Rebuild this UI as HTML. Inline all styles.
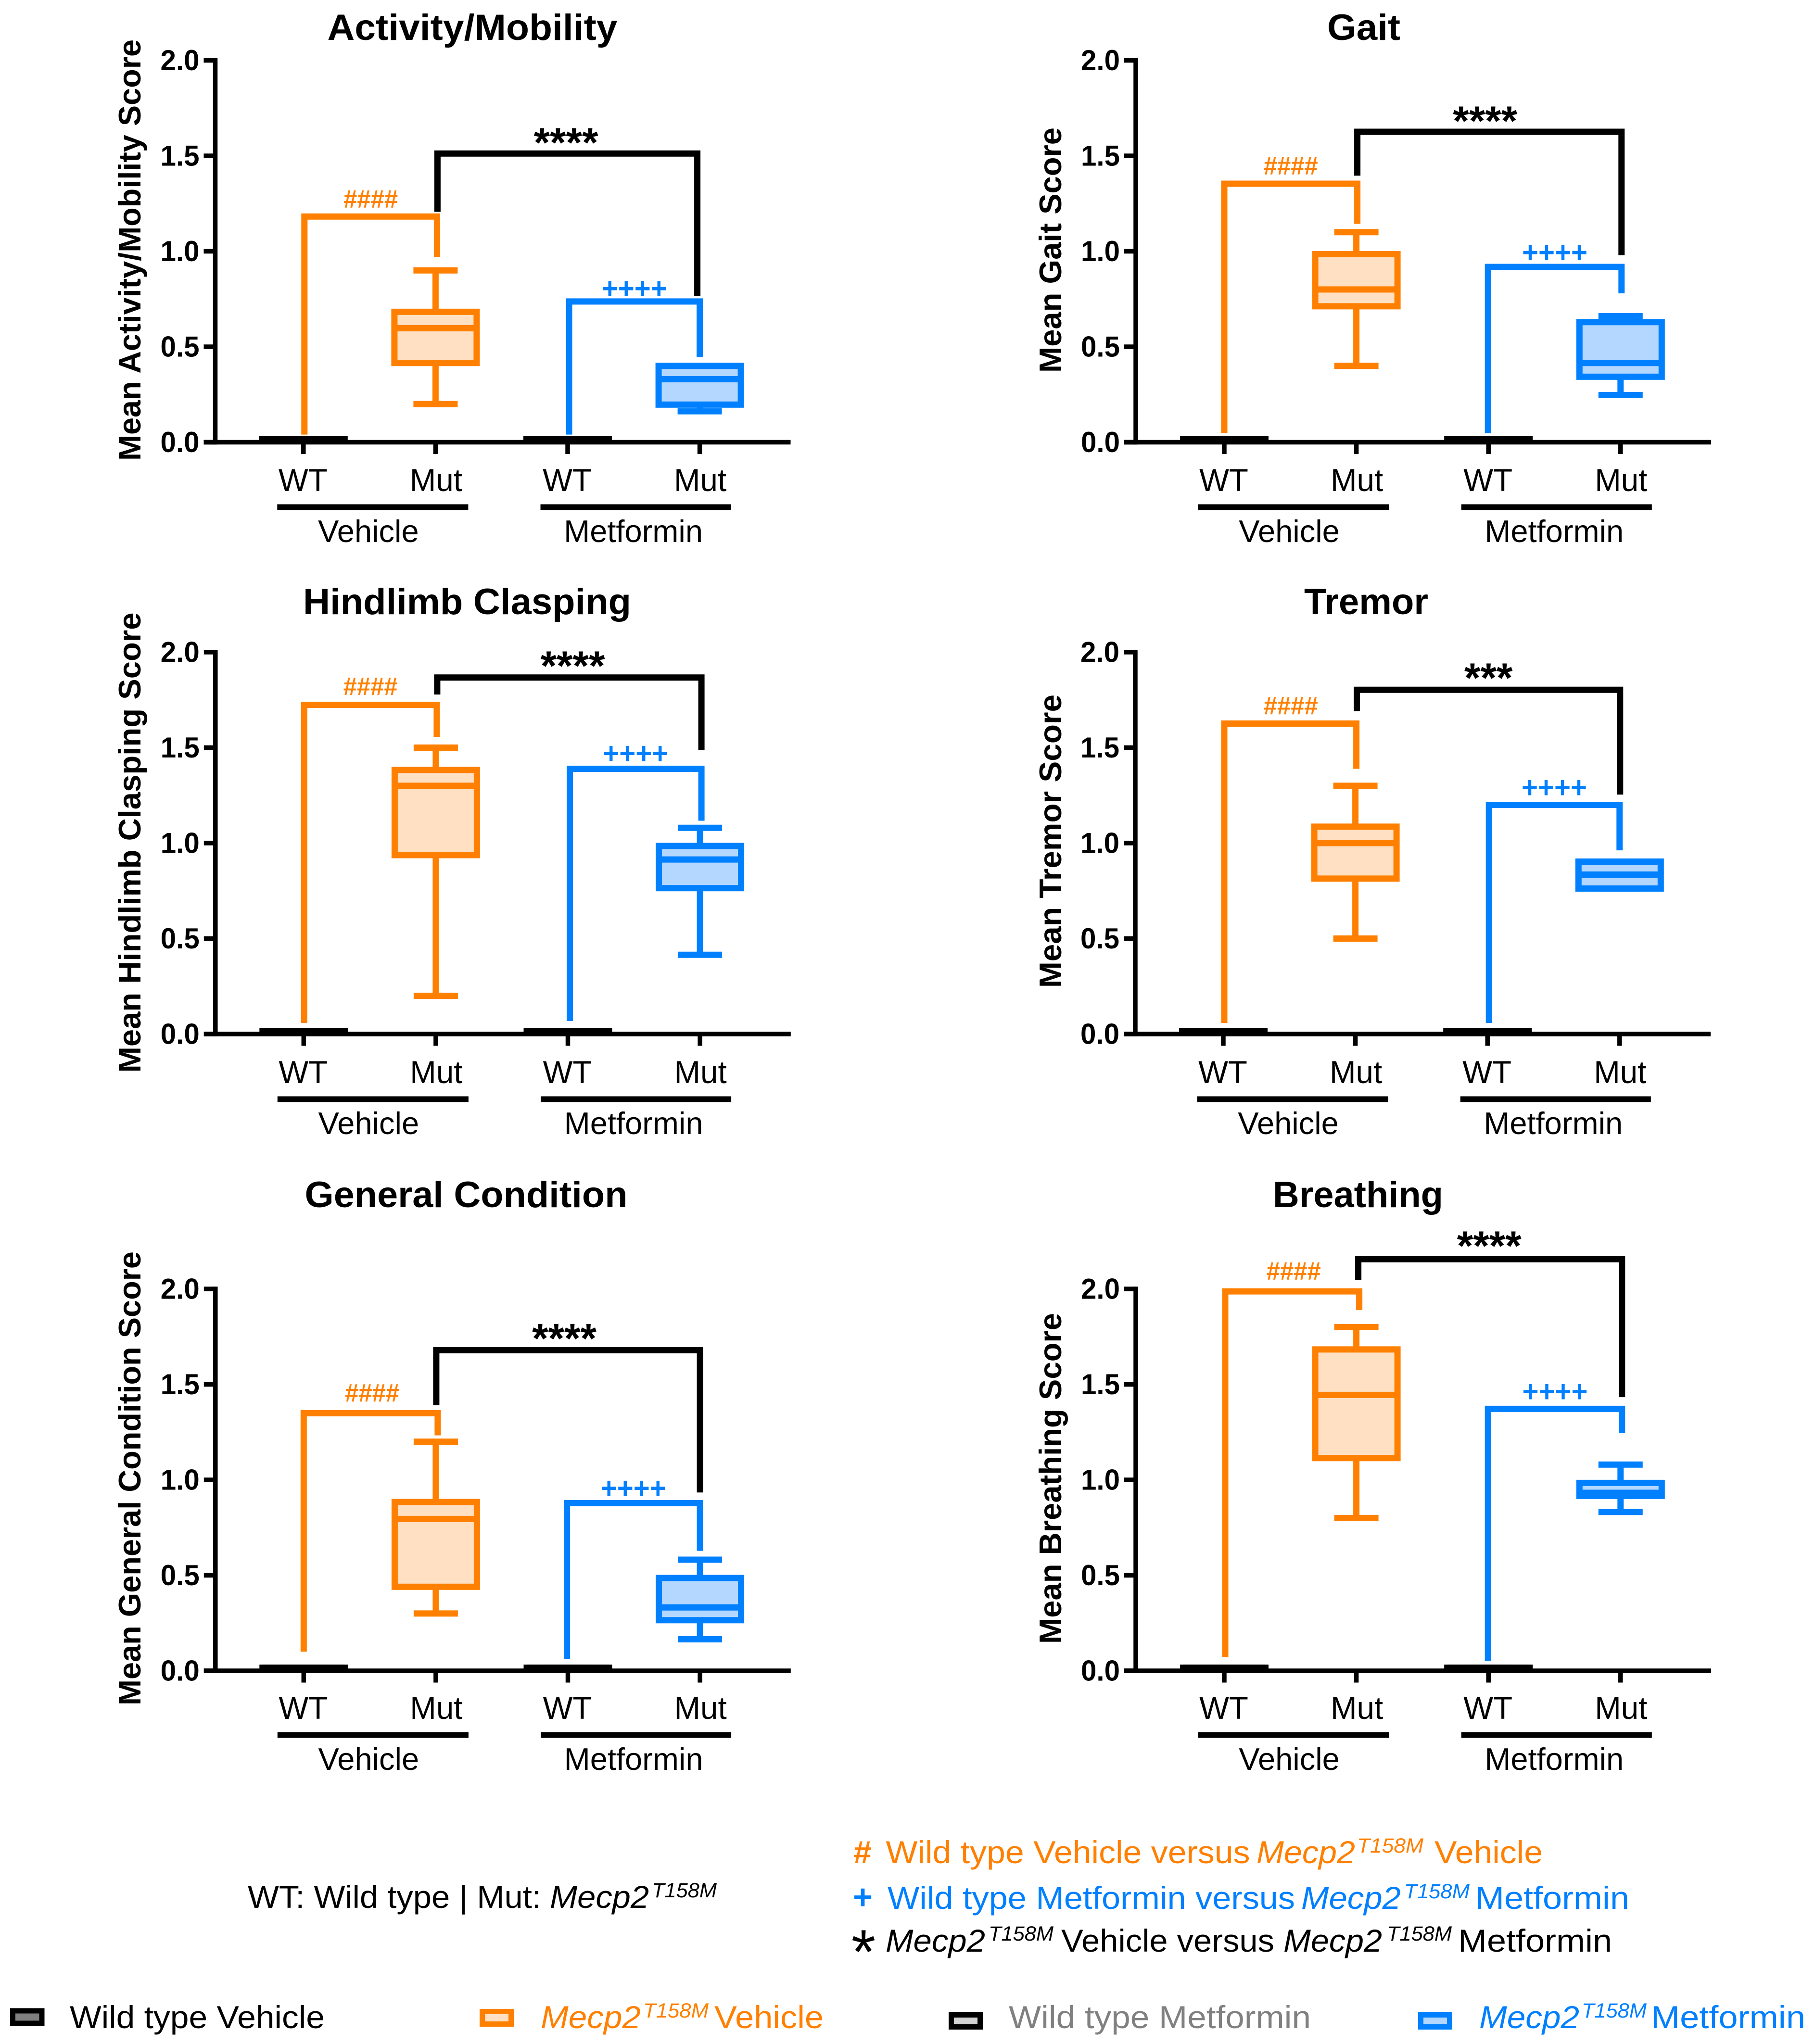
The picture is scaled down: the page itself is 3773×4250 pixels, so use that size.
<!DOCTYPE html>
<html lang="en">
<head>
<meta charset="utf-8">
<title>Behavioral scores by genotype and treatment</title>
<style>
html,body{margin:0;padding:0;background:#fff;}
svg{display:block;}
text{font-family:"Liberation Sans",Arial,sans-serif;}
</style>
</head>
<body>
<svg id="figure" xmlns="http://www.w3.org/2000/svg" width="3773" height="4250" viewBox="0 0 3773 4250">
<rect x="0" y="0" width="3773" height="4250" fill="#ffffff"/>
<g id="panels"></g>

<g font-size="65.5" fill="#000">
<text x="515" y="3967" textLength="610" lengthAdjust="spacingAndGlyphs">WT: Wild type | Mut:</text>
<text x="1143" y="3967" font-style="italic" textLength="206" lengthAdjust="spacingAndGlyphs">Mecp2</text>
<text x="1355" y="3945" font-size="43" font-style="italic" textLength="135" lengthAdjust="spacingAndGlyphs">T158M</text>
</g>

<g font-size="65.5">
<g fill="#FF8000">
<text x="1774" y="3874" font-weight="bold" textLength="38" lengthAdjust="spacingAndGlyphs" font-size="66">#</text>
<text x="1841.5" y="3874" textLength="757" lengthAdjust="spacingAndGlyphs">Wild type Vehicle versus</text>
<text x="2612" y="3874" font-style="italic" textLength="205" lengthAdjust="spacingAndGlyphs">Mecp2</text>
<text x="2821" y="3852" font-size="43" font-style="italic" textLength="138" lengthAdjust="spacingAndGlyphs">T158M</text>
<text x="2982" y="3874" textLength="225" lengthAdjust="spacingAndGlyphs">Vehicle</text>
</g>
<g fill="#0080FF">
<text x="1773" y="3969" font-weight="bold" textLength="41" lengthAdjust="spacingAndGlyphs" font-size="72">+</text>
<text x="1845" y="3969" textLength="847" lengthAdjust="spacingAndGlyphs">Wild type Metformin versus</text>
<text x="2705" y="3969" font-style="italic" textLength="207" lengthAdjust="spacingAndGlyphs">Mecp2</text>
<text x="2919" y="3947" font-size="43" font-style="italic" textLength="136" lengthAdjust="spacingAndGlyphs">T158M</text>
<text x="3067" y="3969" textLength="320" lengthAdjust="spacingAndGlyphs">Metformin</text>
</g>
<g fill="#000">
<text x="1795" y="4103" font-size="130" text-anchor="middle">*</text>
<text x="1841" y="4058" font-style="italic" textLength="207" lengthAdjust="spacingAndGlyphs">Mecp2</text>
<text x="2055" y="4035" font-size="43" font-style="italic" textLength="135" lengthAdjust="spacingAndGlyphs">T158M</text>
<text x="2206" y="4058" textLength="443" lengthAdjust="spacingAndGlyphs">Vehicle versus</text>
<text x="2668" y="4058" font-style="italic" textLength="205" lengthAdjust="spacingAndGlyphs">Mecp2</text>
<text x="2883" y="4035" font-size="43" font-style="italic" textLength="135" lengthAdjust="spacingAndGlyphs">T158M</text>
<text x="3031" y="4058" textLength="320" lengthAdjust="spacingAndGlyphs">Metformin</text>
</g>
</g>

<g font-size="65.5">
<g>
<rect x="26.5" y="4181" width="60.5" height="26" fill="#808080" stroke="#000" stroke-width="11"/>
<text x="145" y="4217" fill="#000" textLength="530" lengthAdjust="spacingAndGlyphs">Wild type Vehicle</text>
</g>
<g fill="#FF8000">
<rect x="1002.5" y="4182.5" width="60" height="26" fill="#FFE0C2" stroke="#FF8000" stroke-width="11"/>
<text x="1124" y="4217" font-style="italic" textLength="208" lengthAdjust="spacingAndGlyphs">Mecp2</text>
<text x="1337" y="4195" font-size="43" font-style="italic" textLength="136" lengthAdjust="spacingAndGlyphs">T158M</text>
<text x="1485" y="4217" textLength="227" lengthAdjust="spacingAndGlyphs">Vehicle</text>
</g>
<g>
<rect x="1977.5" y="4189.5" width="60" height="25" fill="#D3D3D3" stroke="#000" stroke-width="11"/>
<text x="2097" y="4217" fill="#808080" textLength="628" lengthAdjust="spacingAndGlyphs">Wild type Metformin</text>
</g>
<g fill="#0080FF">
<rect x="2953.5" y="4189.5" width="60" height="25" fill="#B3D7FF" stroke="#0080FF" stroke-width="11"/>
<text x="3075" y="4217" font-style="italic" textLength="208" lengthAdjust="spacingAndGlyphs">Mecp2</text>
<text x="3288" y="4195" font-size="43" font-style="italic" textLength="135" lengthAdjust="spacingAndGlyphs">T158M</text>
<text x="3432" y="4217" textLength="321" lengthAdjust="spacingAndGlyphs">Metformin</text>
</g>
</g>
</svg>

<script>
// ---------- chart data ----------
const panelTitles = ['Activity/Mobility', 'Gait', 'Hindlimb Clasping', 'Tremor', 'General Condition', 'Breathing'];
const yAxisTitles = ['Mean Activity/Mobility Score', 'Mean Gait Score', 'Mean Hindlimb Clasping Score', 'Mean Tremor Score', 'Mean General Condition Score', 'Mean Breathing Score'];
const categories = ['WT', 'Mut', 'WT', 'Mut'];
const groupLabels = ['Vehicle', 'Metformin'];
const yTickValues = [0, 0.5, 1, 1.5, 2];
const yTickLabels = ['0.0', '0.5', '1.0', '1.5', '2.0'];

// box values: low whisker, Q1, median, Q3, high whisker
const wtVehicleBox = [
  [0.016, 0.0155, 0.016, 0.016, 0.016], [0.016, 0.0155, 0.016, 0.016, 0.016], [0.016, 0.0155, 0.016, 0.016, 0.016],
  [0.016, 0.0155, 0.016, 0.016, 0.016], [0.016, 0.0155, 0.016, 0.016, 0.016], [0.016, 0.0155, 0.016, 0.016, 0.016]
];
const wtMetforminBox = [
  [0.016, 0.0155, 0.016, 0.016, 0.016], [0.016, 0.0155, 0.016, 0.016, 0.016], [0.016, 0.0155, 0.016, 0.016, 0.016],
  [0.016, 0.0155, 0.016, 0.016, 0.016], [0.016, 0.0155, 0.016, 0.016, 0.016], [0.016, 0.0155, 0.016, 0.016, 0.016]
];
const mutVehicleBox = [
  [0.20, 0.415, 0.597, 0.683, 0.90],
  [0.40, 0.712, 0.80, 0.985, 1.10],
  [0.20, 0.937, 1.30, 1.383, 1.50],
  [0.50, 0.814, 1.00, 1.086, 1.30],
  [0.30, 0.44, 0.795, 0.884, 1.20],
  [0.80, 1.114, 1.445, 1.683, 1.80]
];
const mutMetforminBox = [
  [0.162, 0.197, 0.33, 0.40, 0.40],
  [0.247, 0.343, 0.415, 0.629, 0.66],
  [0.415, 0.764, 0.914, 0.985, 1.08],
  [0.762, 0.762, 0.835, 0.903, 0.903],
  [0.165, 0.265, 0.332, 0.486, 0.582],
  [0.832, 0.916, 0.932, 0.984, 1.08]
];

// significance brackets: left end, bracket top, right end
const hashBracket = [
  [0.04, 1.182, 0.97],
  [0.048, 1.354, 1.144],
  [0.058, 1.724, 1.556],
  [0.058, 1.626, 1.389],
  [0.10, 1.349, 1.233],
  [0.071, 1.987, 1.889]
];
const plusBracket = [
  [0.04, 0.737, 0.446],
  [0.048, 0.918, 0.78],
  [0.068, 1.389, 1.117],
  [0.058, 1.20, 0.962],
  [0.063, 0.878, 0.628],
  [0.052, 1.372, 1.245]
];
const starBracket = [
  [1.207, 1.512, 0.766],
  [1.396, 1.626, 0.98],
  [1.778, 1.867, 1.487],
  [1.691, 1.803, 1.254],
  [1.391, 1.679, 0.934],
  [2.048, 2.156, 1.433]
];
const hashLabels = ['####', '####', '####', '####', '####', '####'];
const plusLabels = ['++++', '++++', '++++', '++++', '++++', '++++'];
const starLabels = ['****', '****', '****', '***', '****', '****'];

// ---------- rendering ----------
const SVGNS = 'http://www.w3.org/2000/svg';
const ORANGE = '#FF8000', BLUE = '#0080FF', BLACK = '#000000';
const ORANGE_FILL = '#FFE0C2', BLUE_FILL = '#B3D7FF';
const UNIT = 397, CAT_STEP = 274.6, STROKE = 13, AXIS_W = 9.5;

function el(tag, attrs, parent, txt) {
  const e = document.createElementNS(SVGNS, tag);
  for (const k in attrs) e.setAttribute(k, attrs[k]);
  if (txt !== undefined) e.textContent = txt;
  parent.appendChild(e);
  return e;
}

function drawBox(parent, vals, cx, yScale, color, fill, name) {
  const g = el('g', {}, parent);
  
  
  const low = vals[0], q1 = vals[1], med = vals[2], q3 = vals[3], high = vals[4];
  const stemHi = el('line', {x1: cx, x2: cx, y1: yScale(q3), y2: yScale(high), stroke: color, 'stroke-width': STROKE}, g);
  
  
  const stemLo = el('line', {x1: cx, x2: cx, y1: yScale(q1), y2: yScale(low), stroke: color, 'stroke-width': STROKE}, g);
  
  
  const capHi = el('line', {x1: cx - 46, x2: cx + 46, y1: yScale(high), y2: yScale(high), stroke: color, 'stroke-width': STROKE}, g);
  
  
  const capLo = el('line', {x1: cx - 46, x2: cx + 46, y1: yScale(low), y2: yScale(low), stroke: color, 'stroke-width': STROKE}, g);
  
  
  const rect = el('rect', {x: cx - 85.5, y: yScale(q3), width: 171, height: yScale(q1) - yScale(q3), fill: fill, stroke: color, 'stroke-width': STROKE}, g);
  
  
  const medLine = el('line', {x1: cx - 85.5, x2: cx + 85.5, y1: yScale(med), y2: yScale(med), stroke: color, 'stroke-width': STROKE}, g);
  
  
}

function drawBracket(parent, vals, xL, xR, yScale, color, name) {
  const d = 'M' + xL + ' ' + yScale(vals[0]) + ' V' + yScale(vals[1]) + ' H' + xR + ' V' + yScale(vals[2]);
  const p = el('path', {d: d, fill: 'none', stroke: color, 'stroke-width': STROKE, 'stroke-linejoin': 'miter'}, parent);
  
  
}

function drawPanel(i, L) {
  const root = document.getElementById('panels');
  const g = el('g', {}, root);
  
  

  const yScale = function (v) { return L.y0 - v * UNIT; };
  const xCat = function (c) { return L.ax + L.first + c * CAT_STEP; };

  // title
  const title = el('text', {x: L.titleX, y: L.titleY, 'font-size': 76, 'font-weight': 'bold', 'text-anchor': 'middle', textLength: L.titleLen, lengthAdjust: 'spacingAndGlyphs', fill: BLACK}, g, panelTitles[i]);
  
  

  // y axis title
  const yt = el('text', {x: 0, y: 0, transform: 'translate(' + L.ytX + ' ' + L.ytY + ') rotate(-90)', 'font-size': 65, 'font-weight': 'bold', 'text-anchor': 'middle', textLength: L.ytLen, lengthAdjust: 'spacingAndGlyphs', fill: BLACK}, g, yAxisTitles[i]);
  
  

  // boxes
  drawBox(g, wtVehicleBox[i], xCat(0), yScale, BLACK, BLACK, 'box-wild-type-vehicle');
  drawBox(g, wtMetforminBox[i], xCat(2), yScale, BLACK, BLACK, 'box-wild-type-metformin');
  drawBox(g, mutVehicleBox[i], xCat(1), yScale, ORANGE, ORANGE_FILL, 'box-mut-vehicle');
  drawBox(g, mutMetforminBox[i], xCat(3), yScale, BLUE, BLUE_FILL, 'box-mut-metformin');

  // axes
  const yAxis = el('line', {x1: L.ax, x2: L.ax, y1: yScale(2) - AXIS_W / 2, y2: yScale(0) + AXIS_W / 2, stroke: BLACK, 'stroke-width': AXIS_W}, g);
  
  
  const xAxis = el('line', {x1: L.ax - 24, x2: L.ax + 1196, y1: yScale(0), y2: yScale(0), stroke: BLACK, 'stroke-width': AXIS_W}, g);
  
  

  yTickValues.forEach(function (v, t) {
    const tick = el('line', {x1: L.ax - 24, x2: L.ax, y1: yScale(v), y2: yScale(v), stroke: BLACK, 'stroke-width': AXIS_W}, g);
    
    
    const lab = el('text', {x: L.ax - 33, y: yScale(v) + 20.5, 'font-size': 60, 'font-weight': 'bold', 'text-anchor': 'end', textLength: 81, lengthAdjust: 'spacingAndGlyphs', fill: BLACK}, g, yTickLabels[t]);
    
    
  });

  categories.forEach(function (c, k) {
    const tick = el('line', {x1: xCat(k), x2: xCat(k), y1: yScale(0), y2: yScale(0) + 24.5, stroke: BLACK, 'stroke-width': AXIS_W}, g);
    
    
    const lab = el('text', {x: xCat(k) + (c === 'Mut' ? 1 : -1), y: L.y0 + 101.5 + L.labelDy, 'font-size': 65.5, 'text-anchor': 'middle', fill: BLACK}, g, c);
    
    
  });

  // treatment group rules and labels
  groupLabels.forEach(function (name, k) {
    const a = xCat(k * 2), b = xCat(k * 2 + 1);
    const left = a + (k === 0 ? -54.5 : -56.5), right = b + (k === 0 ? 68 : 65);
    const rule = el('line', {x1: left, x2: right, y1: L.y0 + 135 + L.labelDy, y2: L.y0 + 135 + L.labelDy, stroke: BLACK, 'stroke-width': 12}, g);
    
    
    const lab = el('text', {x: (left + right) / 2 - (k === 0 ? 9 : 5), y: L.y0 + 207.5 + L.labelDy, 'font-size': 65, 'text-anchor': 'middle', fill: BLACK}, g, name);
    
    
  });

  // brackets
  const hx0 = xCat(0) + L.nudge[0], hx1 = xCat(1) + L.nudge[1];
  const sx0 = xCat(1) + L.nudge[2], sx1 = xCat(3) + L.nudge[3];
  const px0 = xCat(2) + L.nudge[4], px1 = xCat(3) + L.nudge[5];
  drawBracket(g, hashBracket[i], hx0, hx1, yScale, ORANGE, 'bracket-wild-type-vs-mut-vehicle');
  drawBracket(g, plusBracket[i], px0, px1, yScale, BLUE, 'bracket-wild-type-vs-mut-metformin');
  drawBracket(g, starBracket[i], sx0, sx1, yScale, BLACK, 'bracket-mut-vehicle-vs-metformin');

  // significance labels
  const hashText = el('text', {x: (hx0 + hx1) / 2 + L.hashDx, y: yScale(hashBracket[i][1]) - L.hashDy + 19, 'font-size': 53, 'font-weight': 'bold', 'text-anchor': 'middle', textLength: 113, lengthAdjust: 'spacingAndGlyphs', fill: ORANGE}, g, hashLabels[i]);
  
  
  const plusText = el('text', {x: (px0 + px1) / 2, y: yScale(plusBracket[i][1]) - L.plusDy + 21, 'font-size': 62, 'font-weight': 'bold', 'text-anchor': 'middle', textLength: 136, lengthAdjust: 'spacingAndGlyphs', fill: BLUE}, g, plusLabels[i]);
  
  
  const starText = el('text', {x: (sx0 + sx1) / 2 + L.starDx, y: yScale(starBracket[i][1]) - L.starDy + 49, 'font-size': 86, 'font-weight': 'bold', 'text-anchor': 'middle', fill: BLACK}, g, starLabels[i]);
  
  
}

drawPanel(0, {ax: 447.5, first: 183.3, y0: 919.5, labelDy: 0, titleX: 982, titleY: 83, titleLen: 603, ytX: 292, ytY: 520, ytLen: 876, nudge: [2, 3, 4, -5, 3, 0], starDx: -3, starDy: 42, hashDx: 0, hashDy: 37, plusDy: 27});
drawPanel(1, {ax: 2361, first: 184, y0: 919.5, labelDy: 0, titleX: 2835, titleY: 83, titleLen: 152, ytX: 2206, ytY: 520, ytLen: 510, nudge: [0, 2, 2, 2, -1, 2], starDx: -9, starDy: 42, hashDx: 0, hashDy: 38, plusDy: 30});
drawPanel(2, {ax: 447.8, first: 183.5, y0: 2150, labelDy: 0.5, titleX: 971, titleY: 1277, titleLen: 682, ytX: 292, ytY: 1752, ytLen: 957, nudge: [1, 2, 3, 3, 4, 3], starDx: 7, starDy: 44, hashDx: 0, hashDy: 39, plusDy: 32});
drawPanel(3, {ax: 2360, first: 183, y0: 2150, labelDy: 0.5, titleX: 2840, titleY: 1277, titleLen: 258, ytX: 2206, ytY: 1749, ytLen: 610, nudge: [2, 2, 3, 1, 3, 0], starDx: 0, starDy: 44, hashDx: 1, hashDy: 38, plusDy: 36});
drawPanel(4, {ax: 447.8, first: 183.5, y0: 3474, labelDy: -1.5, titleX: 969, titleY: 2510, titleLen: 671, ytX: 292, ytY: 3074, ytLen: 944, nudge: [0, 4, 1, 0, -2, 0], starDx: -8, starDy: 44, hashDx: 3, hashDy: 43, plusDy: 31});
drawPanel(5, {ax: 2361, first: 184, y0: 3474, labelDy: -1.5, titleX: 2823, titleY: 2510, titleLen: 354, ytX: 2206, ytY: 3074, ytLen: 688, nudge: [2, 6, 4, 3, -1, 3], starDx: -2, starDy: 47, hashDx: 3, hashDy: 43, plusDy: 36});
</script>
</body>
</html>
